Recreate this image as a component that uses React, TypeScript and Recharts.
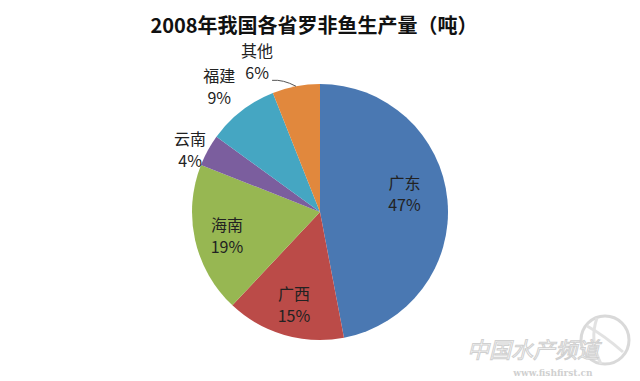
import React from "react";
import { PieChart, Pie, Cell } from "recharts";

const provinces = ["广东", "广西", "海南", "云南", "福建", "其他"];
const shares = [47, 15, 19, 4, 9, 6];
const colors = ["#4A78B2", "#BB4B48", "#97B752", "#7B5E9E", "#45A6C2", "#E1883D"];

const data = provinces.map((name, i) => ({ name, value: shares[i] }));

const labelRadius = [0.68, 0.73, 0.745, 1.135, 1.27, 1.29];
const labelAngleShift = [8.6, 0, 0, 2.2, 0.5, 11.6];
const FONT = "'Noto Sans CJK SC', 'Noto Sans', sans-serif";

const RADIAN = Math.PI / 180;

const renderLabel = (props: any) => {
  const { cx, cy, midAngle, outerRadius, index, name, value } = props;
  const ang = (midAngle + labelAngleShift[index]) * RADIAN;
  const r = outerRadius * labelRadius[index];
  const x = cx + r * Math.cos(ang);
  const y = cy - r * Math.sin(ang);
  const items: React.ReactNode[] = [];
  if (index === 5) {
    const ea = midAngle * RADIAN;
    const ex = cx + outerRadius * Math.cos(ea);
    const ey = cy - outerRadius * Math.sin(ea);
    items.push(
      <path
        key="leader"
        d={`M${x + 15},${y + 21} Q${x + 26},${y + 20} ${ex},${ey}`}
        stroke="#555"
        strokeWidth={1}
        fill="none"
      />
    );
  }
  return (
    <g>
      {items}
      <text x={x} y={y - 2} textAnchor="middle" fontSize={16} fill="#222" fontFamily={FONT}>
        {name}
      </text>
      <text x={x} y={y + 20} textAnchor="middle" fontSize={16} fill="#222" fontFamily={FONT}>
        {value}%
      </text>
    </g>
  );
};

export default function App() {
  return (
    <div style={{ position: "absolute", left: 0, top: 0, width: 640, height: 381, background: "#fff" }}>
      <PieChart width={640} height={381} margin={{ top: 0, right: 0, bottom: 0, left: 0 }}>
        <text x={314} y={33} textAnchor="middle" fontSize={20} fontWeight="bold" fill="#111" fontFamily={FONT}>
          2008年我国各省罗非鱼生产量（吨）
        </text>
        <Pie
          data={data}
          dataKey="value"
          nameKey="name"
          cx={320}
          cy={212}
          outerRadius={128}
          startAngle={90}
          endAngle={-270}
          stroke="none"
          label={renderLabel}
          labelLine={false}
          isAnimationActive={false}
        >
          {data.map((d, i) => (
            <Cell key={d.name} fill={colors[i]} />
          ))}
        </Pie>
        <g opacity={0.55}>
          <circle cx={605} cy={340} r={24} fill="none" stroke="#bbb" strokeWidth={3} />
          <path d="M587,326 Q605,336 623,352" stroke="#ccc" strokeWidth={3} fill="none" />
          <path d="M597,318 Q589,340 601,364" stroke="#ccc" strokeWidth={3} fill="none" />
          <text x={533} y={358} textAnchor="middle" fontSize={22} fontStyle="italic" fill="#fff" stroke="#aaa" strokeWidth={1} fontFamily={FONT}>
            中国水产频道
          </text>
          <text x={553} y={376} textAnchor="middle" fontSize={9} fill="#aaa" fontFamily="'DejaVu Serif', serif" fontWeight="bold">
            www.fishfirst.cn
          </text>
        </g>
      </PieChart>
    </div>
  );
}
